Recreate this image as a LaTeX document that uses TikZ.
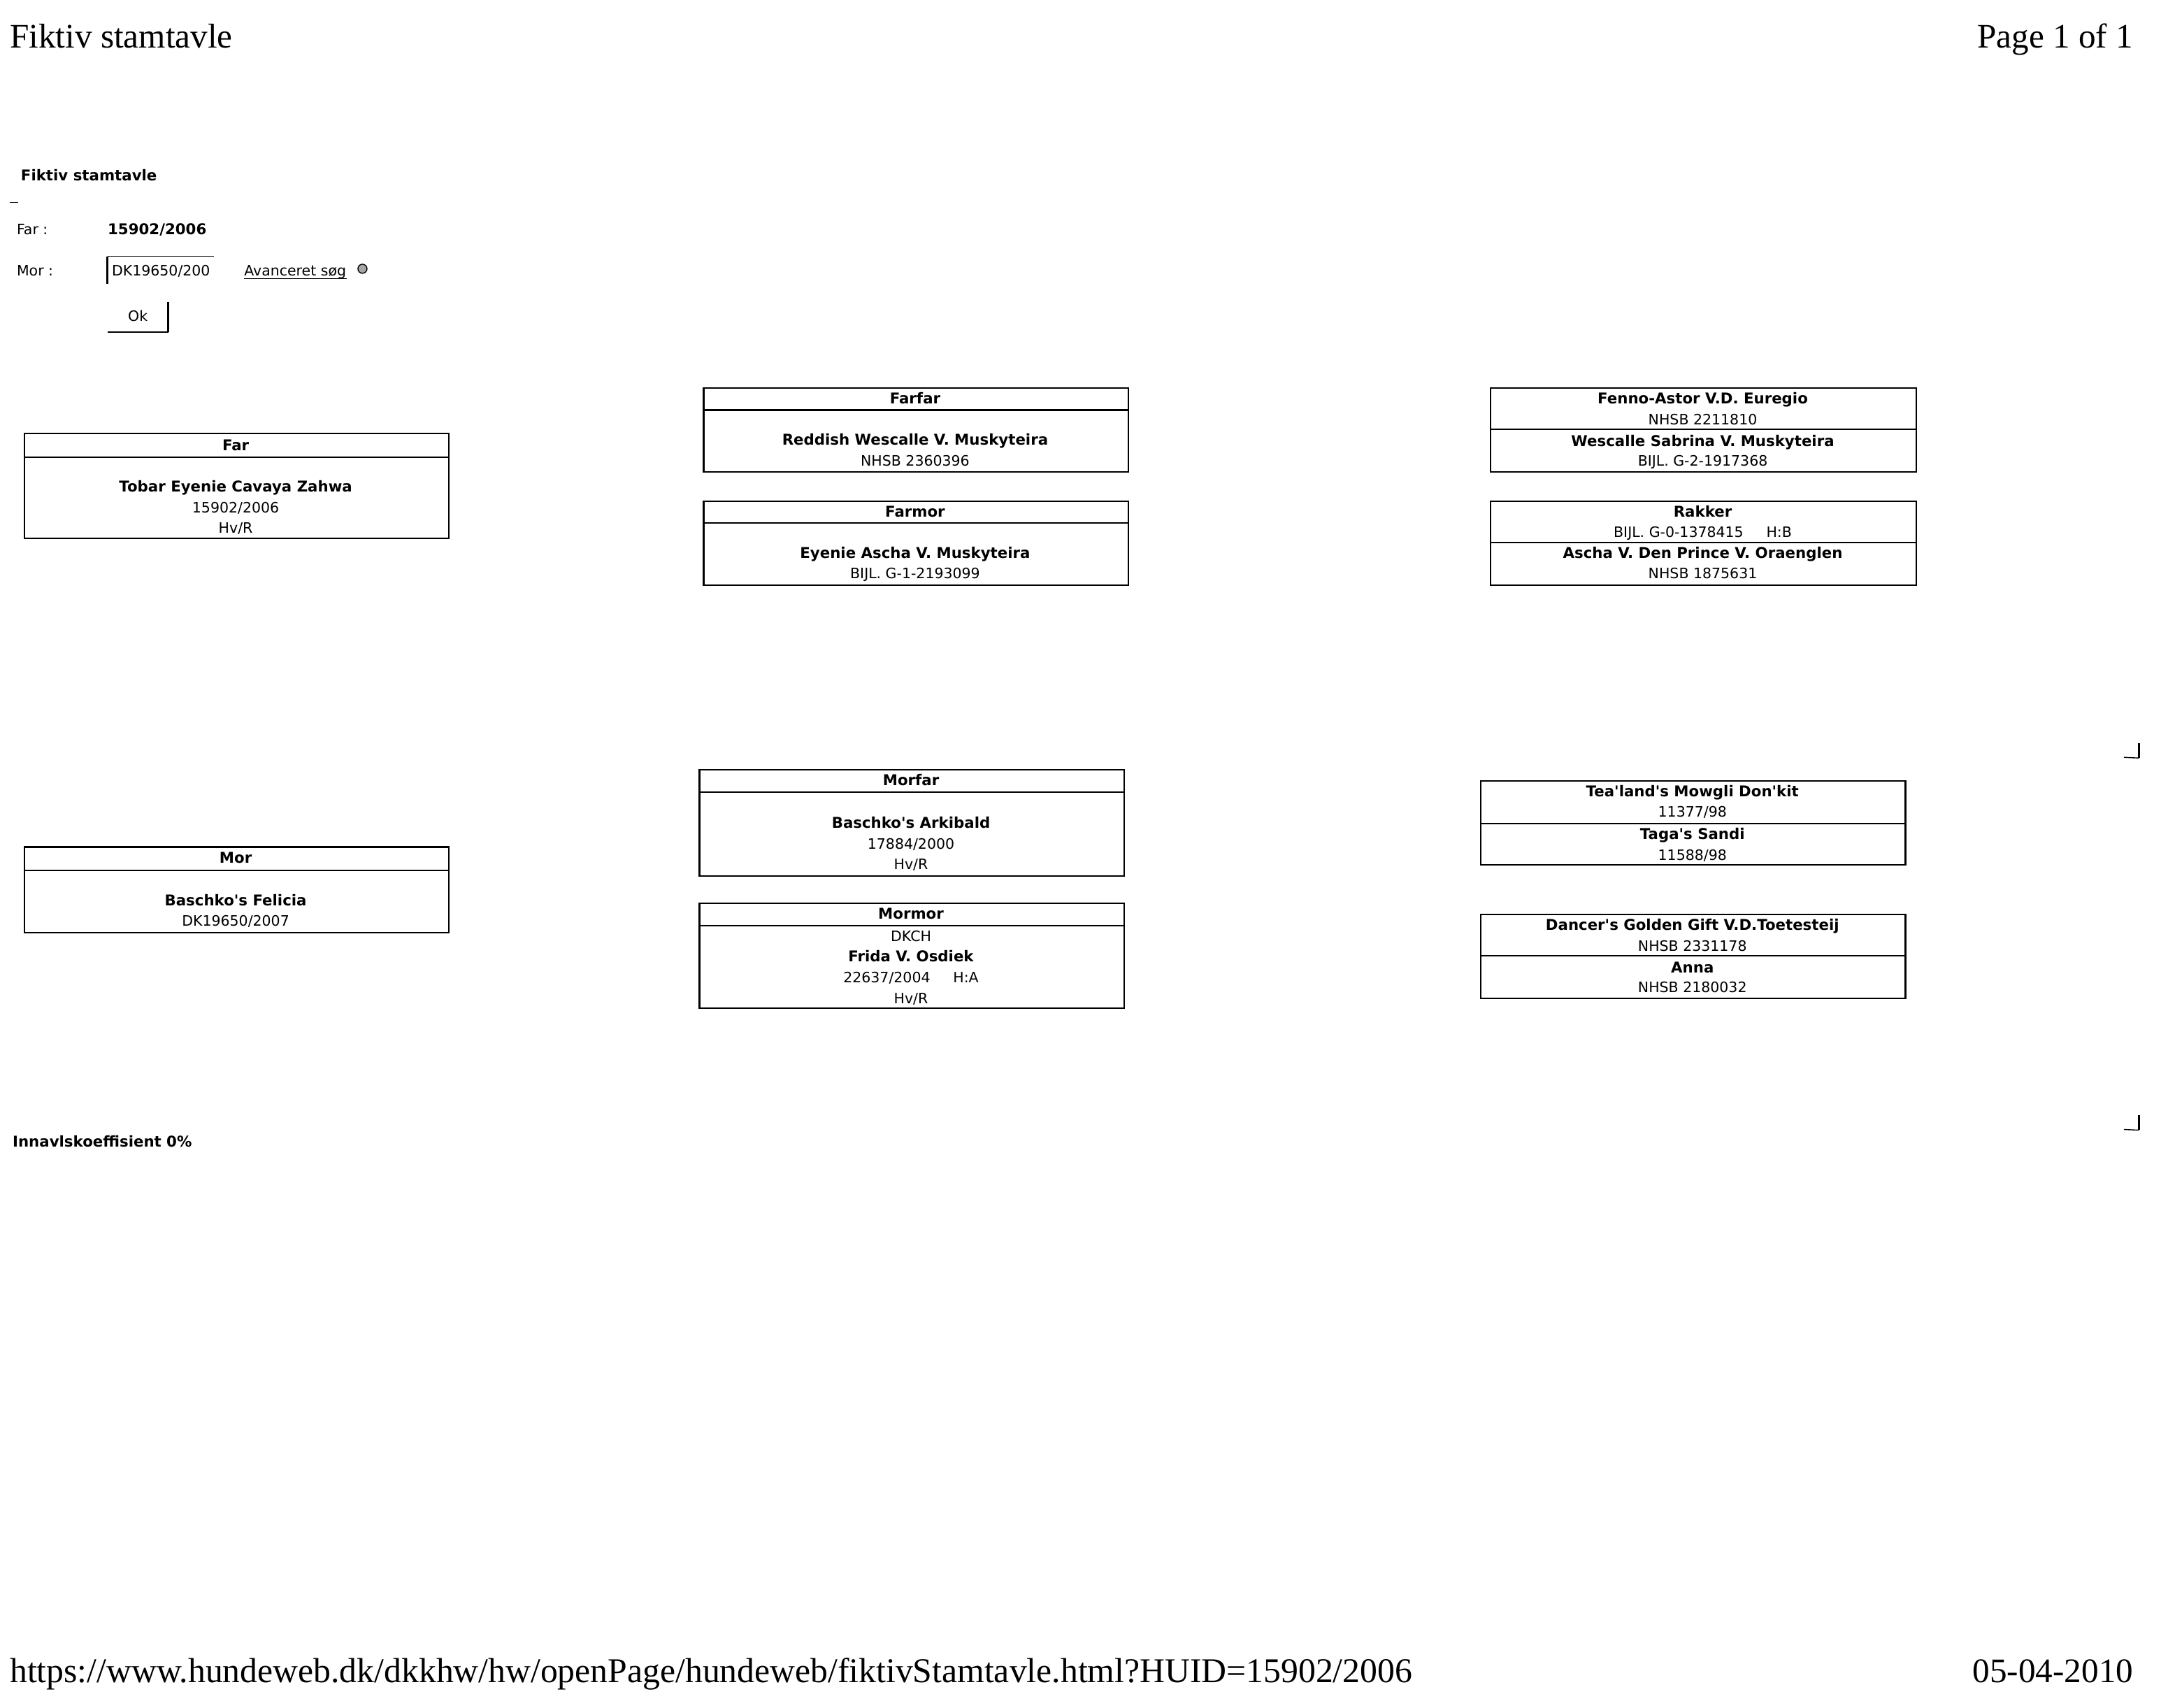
\documentclass[tikz,border=0pt]{standalone}
\usepackage{fontspec}
\usetikzlibrary{calc}
\newfontfamily\vf{DejaVu Sans}
\newfontfamily\tf{Liberation Serif}
\newcommand\rsz{\fontsize{10.25}{12}\selectfont}
\newcommand\bsz{\fontsize{10.65}{12}\selectfont}
\def\ksc{0.9856}
\newcommand\mkbox[5]{\node[pbox, minimum width={\ksc*#4pt}, minimum height={\ksc*#5pt}] (#1) at (#2,#3) {};}
\begin{document}
\begin{tikzpicture}[x=0.9856pt,y=-0.9856pt,
  pbox/.style={draw, line width=1.1pt, inner sep=0pt, anchor=north west},
  lt/.style={font=\vf\rsz, inner sep=0pt, anchor=base},
  bt/.style={font=\vf\bfseries\bsz, inner sep=0pt, anchor=base},
  serif/.style={font=\tf\fontsize{24.6}{30}\selectfont, inner sep=0pt},
  serifu/.style={font=\tf\fontsize{24.85}{30}\selectfont, inner sep=0pt},
  thinl/.style={line width=0.7pt},
  thickl/.style={line width=1.4pt}]
\useasboundingbox[fill=white] (0,0) rectangle (1568,1239);

% page header / footer
\node[serif, anchor=base west] (ptitle) at (7,35) {Fiktiv stamtavle};
\node[serif, anchor=base east] (ppage) at (1548,35) {Page 1 of 1};
\node[serifu, anchor=base west] (purl) at (7,1221) {https://www.hundeweb.dk/dkkhw/hw/openPage/hundeweb/fiktivStamtavle.html?HUID=15902/2006};
\node[serif, anchor=base east] (pdate) at (1548,1221) {05-04-2010};

% form
\node[bt, anchor=base west] (ftitle) at (15,131) {Fiktiv stamtavle};
\coordinate (dashA) at (7,147); \coordinate (dashB) at (13,147);
\draw[thinl] (dashA) -- (dashB);
\node[lt, anchor=base west] (farl) at (12,170) {Far :};
\node[bt, anchor=base west] (farv) at (78,170) {15902/2006};
\node[lt, anchor=base west] (morl) at (12,200) {Mor :};
\coordinate (inTL) at (78,186); \coordinate (inTR) at (155,186); \coordinate (inBL) at (78,206);
\draw[thinl] (inTL) -- (inTR);
\draw[thickl] (inTL) -- (inBL);
\node[lt, anchor=base west] (morv) at (81,200) {DK19650/200};
\node[lt, anchor=base west] (avs) at (177,200) {Avanceret søg};
\draw[thinl] ($(avs.base west)+(0,2)$) -- ($(avs.base east)+(0,2)$);
\node[circle, draw, fill=gray!70, line width=0.7pt, inner sep=0pt, minimum size=6.5pt] (ico) at (263,195) {};
\node[lt] (okt) at (100,233) {Ok};
\coordinate (okTR) at (122,219); \coordinate (okBR) at (122,241); \coordinate (okBL) at (78,241);
\draw[thickl] (okTR) -- (okBR);
\draw[thinl] (okBL) -- (okBR);

% Far
\mkbox{farH}{17}{314}{308}{17}
\mkbox{farB}{17}{331}{308}{59}
\node[bt] (t1) at (171,327) {Far};
\node[bt] (t2) at (171,357) {Tobar Eyenie Cavaya Zahwa};
\node[lt] (t3) at (171,372) {15902/2006};
\node[lt] (t4) at (171,387) {Hv/R};

% Mor
\mkbox{morH}{17}{614}{308}{17}
\mkbox{morB}{17}{631}{308}{45}
\node[bt] (t5) at (171,626) {Mor};
\node[bt] (t6) at (171,657) {Baschko's Felicia};
\node[lt] (t7) at (171,672) {DK19650/2007};

% Farfar
\mkbox{ffH}{510}{281}{308}{16}
\mkbox{ffB}{510}{297}{308}{45}
\node[bt] (t8) at (664,293) {Farfar};
\node[bt] (t9) at (664,323) {Reddish Wescalle V. Muskyteira};
\node[lt] (t10) at (664,338) {NHSB 2360396};

% Farmor
\mkbox{fmH}{510}{363}{308}{16}
\mkbox{fmB}{510}{379}{308}{45}
\node[bt] (t11) at (664,375) {Farmor};
\node[bt] (t12) at (664,405) {Eyenie Ascha V. Muskyteira};
\node[lt] (t13) at (664,420) {BIJL. G-1-2193099};

% Morfar
\mkbox{mfH}{507}{558}{308}{16}
\mkbox{mfB}{507}{574}{308}{61}
\node[bt] (t14) at (661,570) {Morfar};
\node[bt] (t15) at (661,601) {Baschko's Arkibald};
\node[lt] (t16) at (661,616) {17884/2000};
\node[lt] (t17) at (661,631) {Hv/R};

% Mormor
\mkbox{mmH}{507}{655}{308}{16}
\mkbox{mmB}{507}{671}{308}{60}
\node[bt] (t18) at (661,667) {Mormor};
\node[lt] (t19) at (661,683) {DKCH};
\node[bt] (t20) at (661,698) {Frida V. Osdiek};
\node[lt] (t21) at (661,713) {22637/2004\hspace{1.6em}H:A};
\node[lt] (t22) at (661,728) {Hv/R};

% Right column A
\mkbox{aH}{1081}{281}{309}{30}
\mkbox{aB}{1081}{311}{309}{31}
\node[bt] (t23) at (1235.5,293) {Fenno-Astor V.D. Euregio};
\node[lt] (t24) at (1235.5,308) {NHSB 2211810};
\node[bt] (t25) at (1235.5,324) {Wescalle Sabrina V. Muskyteira};
\node[lt] (t26) at (1235.5,338) {BIJL. G-2-1917368};

% B
\mkbox{bH}{1081}{363}{309}{30}
\mkbox{bB}{1081}{393}{309}{31}
\node[bt] (t27) at (1235.5,375) {Rakker};
\node[lt] (t28) at (1235.5,390) {BIJL. G-0-1378415\hspace{1.6em}H:B};
\node[bt] (t29) at (1235.5,405) {Ascha V. Den Prince V. Oraenglen};
\node[lt] (t30) at (1235.5,420) {NHSB 1875631};

% C
\mkbox{cH}{1074}{566}{308}{31}
\mkbox{cB}{1074}{597}{308}{30}
\node[bt] (t31) at (1228,578) {Tea'land's Mowgli Don'kit};
\node[lt] (t32) at (1228,593) {11377/98};
\node[bt] (t33) at (1228,609) {Taga's Sandi};
\node[lt] (t34) at (1228,624) {11588/98};

% D
\mkbox{dH}{1074}{663}{308}{30}
\mkbox{dB}{1074}{693}{308}{31}
\node[bt] (t35) at (1228,675) {Dancer's Golden Gift V.D.Toetesteij};
\node[lt] (t36) at (1228,690) {NHSB 2331178};
\node[bt] (t37) at (1228,706) {Anna};
\node[lt] (t38) at (1228,720) {NHSB 2180032};

% inbreeding
\node[bt, anchor=base west] (inb) at (9,832) {Innavlskoeffisient 0\%};

% corner marks
\coordinate (m1a) at (1552,539); \coordinate (m1b) at (1552,550); \coordinate (m1c) at (1541,549.5);
\draw[thickl] (m1a) -- (m1b);
\draw[thinl] (m1c) -- (m1b);
\coordinate (m2a) at (1552,809); \coordinate (m2b) at (1552,820); \coordinate (m2c) at (1541,819.5);
\draw[thickl] (m2a) -- (m2b);
\draw[thinl] (m2c) -- (m2b);
\end{tikzpicture}
\end{document}
